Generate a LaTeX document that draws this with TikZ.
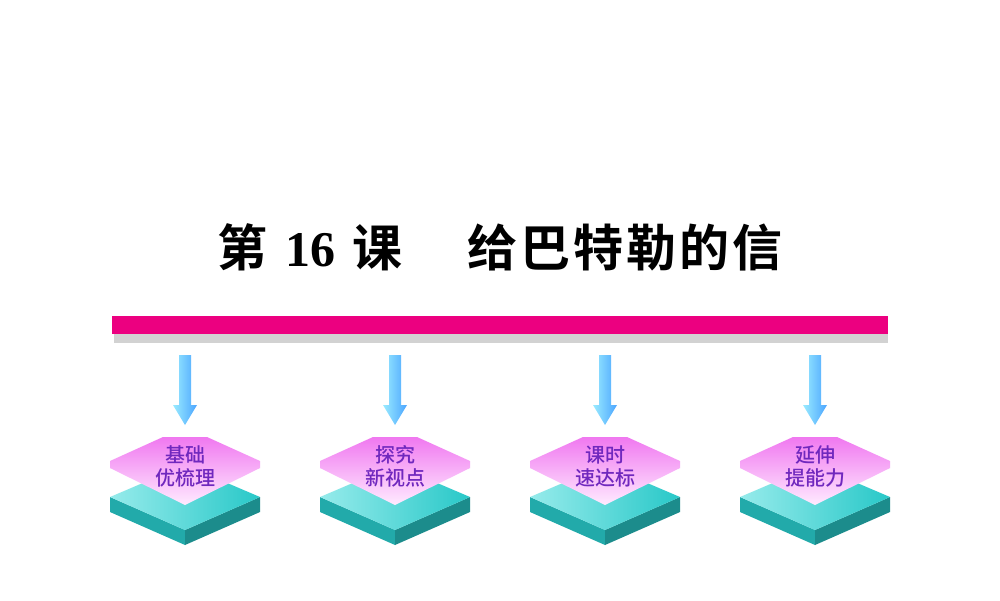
\documentclass[tikz,border=0pt]{standalone}
\usepackage{fontspec}
\newfontfamily\cjk{Noto Sans CJK SC Medium}
\newfontfamily\cjkb{Noto Sans CJK SC Bold}
\setmainfont{Liberation Serif}
\usetikzlibrary{shadings}
\definecolor{barpink}{RGB}{236,0,128}
\definecolor{txtpurple}{RGB}{112,40,190}
\definecolor{tealA}{RGB}{40,200,200}
\definecolor{tealB}{RGB}{150,235,235}
\definecolor{pinkA}{RGB}{240,120,240}
\definecolor{pinkB}{RGB}{255,235,255}
\tikzset{
 arr/.style={left color=blue!20!cyan!40, right color=blue!50!cyan!70, draw=none},
 lbl/.style={text=txtpurple, font=\cjk\fontsize{20}{23}\selectfont, align=center, inner sep=0pt},
}
\begin{document}
\begin{tikzpicture}[x=1pt,y=-1pt]
\useasboundingbox (0,0) rectangle (1000,600);
\fill[white] (0,0) rectangle (1000,600);
\node[inner sep=0pt] (title) at (500,247) {\fontsize{50}{54}\selectfont{\cjkb 第}\hspace{0.35em}\textbf{16}\hspace{0.35em}{\cjkb 课}\hspace{1.3em}{\cjkb 给\kern3pt 巴\kern3pt 特\kern3pt 勒\kern3pt 的\kern3pt 信}};
\fill[gray!35] (114,333) rectangle (888,343);
\fill[barpink] (112,316) rectangle (888,334);
\foreach \cx/\a/\b [count=\i] in {185/基础/优梳理, 395/探究/新视点, 605/课时/速达标, 815/延伸/提能力}{
 \shade[arr] (\cx-6,355) -- (\cx+6,355) -- (\cx+6,405) -- (\cx+12,405) -- (\cx,425) -- (\cx-12,405) -- (\cx-6,405) -- cycle;
 \fill[tealA!85!black] (\cx-75,497) -- (\cx,530) -- (\cx,545) -- (\cx-75,512) -- cycle;
 \fill[tealA!70!black] (\cx+75,497) -- (\cx,530) -- (\cx,545) -- (\cx+75,512) -- cycle;
 \shade[left color=tealB, right color=tealA] (\cx-75,497) -- (\cx,465) -- (\cx+75,497) -- (\cx,530) -- cycle;
 \shade[top color=pinkA, bottom color=pinkB] (\cx-22,437) -- (\cx+22,437) -- (\cx+75,461) -- (\cx+75,468) -- (\cx,505) -- (\cx-75,468) -- (\cx-75,461) -- cycle;
 \node[lbl] (l\i) at (\cx,466) {\a\\\b};
}
\end{tikzpicture}
\end{document}
